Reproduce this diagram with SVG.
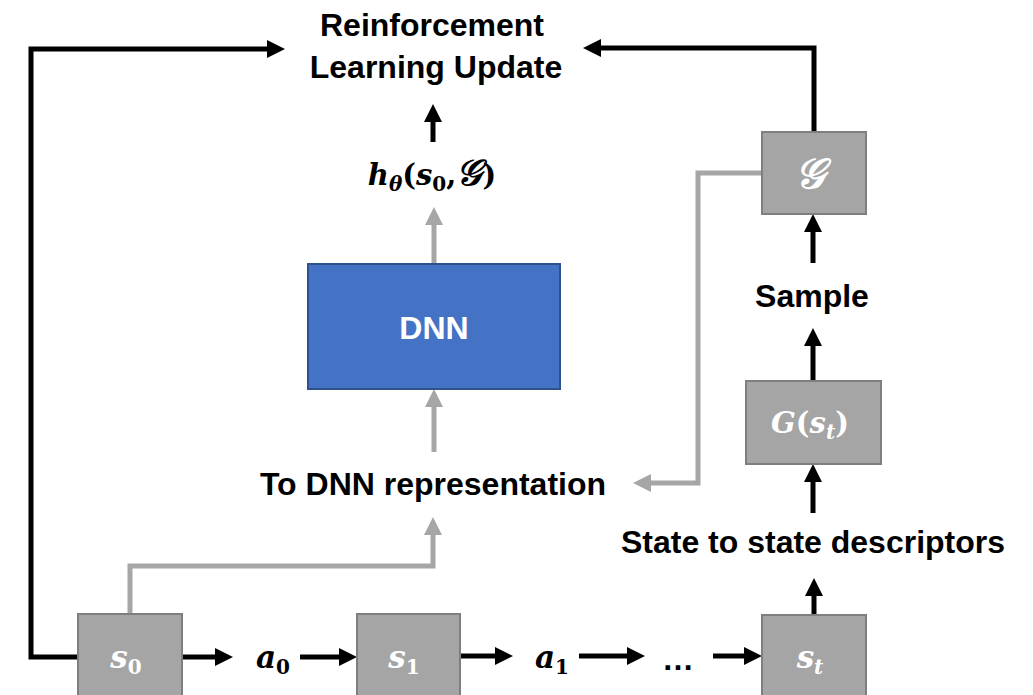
<svg xmlns="http://www.w3.org/2000/svg" width="1033" height="695" viewBox="0 0 1033 695">
<style>
.lbl{font-family:"Liberation Sans",Arial,sans-serif;font-weight:bold;font-size:32px;fill:#000;text-anchor:middle}
.box{fill:#A5A5A5;stroke:#7F7F7F;stroke-width:2}
.m{font-family:"DejaVu Serif","Liberation Serif",serif;font-weight:bold;font-style:italic;font-size:29px;text-anchor:middle}
.mb{font-size:31px}
.w{fill:#fff}
.k{fill:#000}
.up{font-style:normal}
.sub{font-size:20px}
.cb{fill:none;stroke:#000;stroke-width:5}
.cg{fill:none;stroke:#A6A6A6;stroke-width:5}
</style>
<defs>
<marker id="ab" viewBox="0 0 18 18" markerWidth="18" markerHeight="18" refX="1" refY="9" orient="auto" markerUnits="userSpaceOnUse"><path d="M0,0 L18,9 L0,18 z" fill="#000"/></marker>
<marker id="ag" viewBox="0 0 18 18" markerWidth="18" markerHeight="18" refX="1" refY="9" orient="auto" markerUnits="userSpaceOnUse"><path d="M0,0 L18,9 L0,18 z" fill="#A6A6A6"/></marker>
</defs>
<rect width="1033" height="695" fill="#fff"/>
<g id="connectors">
<path class="cb" d="M78,657 H31 V49 H268" marker-end="url(#ab)"/>
<path class="cb" d="M814,132 V48 H600" marker-end="url(#ab)"/>
<path class="cb" d="M433,142 V121" marker-end="url(#ab)"/>
<path class="cb" d="M813,513 V481" marker-end="url(#ab)"/>
<path class="cb" d="M813,381 V345" marker-end="url(#ab)"/>
<path class="cb" d="M813,263 V231" marker-end="url(#ab)"/>
<path class="cb" d="M814,615 V595" marker-end="url(#ab)"/>
<path class="cb" d="M182,657 H216" marker-end="url(#ab)"/>
<path class="cb" d="M300,657 H340" marker-end="url(#ab)"/>
<path class="cb" d="M460,656 H496" marker-end="url(#ab)"/>
<path class="cb" d="M579,656 H628" marker-end="url(#ab)"/>
<path class="cb" d="M713,656 H745" marker-end="url(#ab)"/>
<path class="cg" d="M434,264 V224" marker-end="url(#ag)"/>
<path class="cg" d="M434,452 V406" marker-end="url(#ag)"/>
<path class="cg" d="M130,614 V566 H433 V534" marker-end="url(#ag)"/>
<path class="cg" d="M762,173 H698 V483 H650" marker-end="url(#ag)"/>
</g>
<g id="rl-update">
<text class="lbl" x="432" y="36">Reinforcement</text>
<text class="lbl" x="436" y="78">Learning Update</text>
</g>
<g id="h-theta">
<text class="m k" x="432" y="185">h<tspan class="sub" dy="6">θ</tspan><tspan class="up" dy="-6">(</tspan>s<tspan class="sub up" dy="6">0</tspan><tspan class="up" dy="-6">,</tspan><tspan style="font-size:36px">𝒢</tspan><tspan class="up">)</tspan></text>
</g>
<g id="dnn">
<rect x="308" y="264" width="252" height="125" fill="#4472C4" stroke="#2F528F" stroke-width="2"/>
<text class="lbl" x="434" y="339" style="fill:#fff">DNN</text>
</g>
<g id="to-dnn">
<text class="lbl" x="433" y="495">To DNN representation</text>
</g>
<g id="goal-set">
<rect class="box" x="762" y="132" width="104" height="82"/>
<text class="m w" x="810" y="188" style="font-size:42px">𝒢</text>
</g>
<g id="sample">
<text class="lbl" x="812" y="307">Sample</text>
</g>
<g id="g-st">
<rect class="box" x="746" y="381" width="135" height="83"/>
<text class="m w" x="810" y="433">G<tspan class="up">(</tspan>s<tspan class="sub" dy="6">t</tspan><tspan class="up" dy="-6">)</tspan></text>
</g>
<g id="state-desc">
<text class="lbl" x="813" y="553">State to state descriptors</text>
</g>
<g id="s0">
<rect class="box" x="78" y="614" width="104" height="90"/>
<text class="m mb w" x="126" y="668">s<tspan class="sub up" dy="6">0</tspan></text>
</g>
<g id="a0">
<text class="m mb k" x="273" y="668">a<tspan class="sub up" dy="6">0</tspan></text>
</g>
<g id="s1">
<rect class="box" x="357" y="614" width="103" height="90"/>
<text class="m mb w" x="404" y="668">s<tspan class="sub up" dy="6">1</tspan></text>
</g>
<g id="a1">
<text class="m mb k" x="552" y="668">a<tspan class="sub up" dy="6">1</tspan></text>
</g>
<g id="ellipsis">
<text class="lbl" x="678" y="670">…</text>
</g>
<g id="st">
<rect class="box" x="762" y="615" width="104" height="90"/>
<text class="m mb w" x="810" y="668">s<tspan class="sub" dy="6">t</tspan></text>
</g>
</svg>
